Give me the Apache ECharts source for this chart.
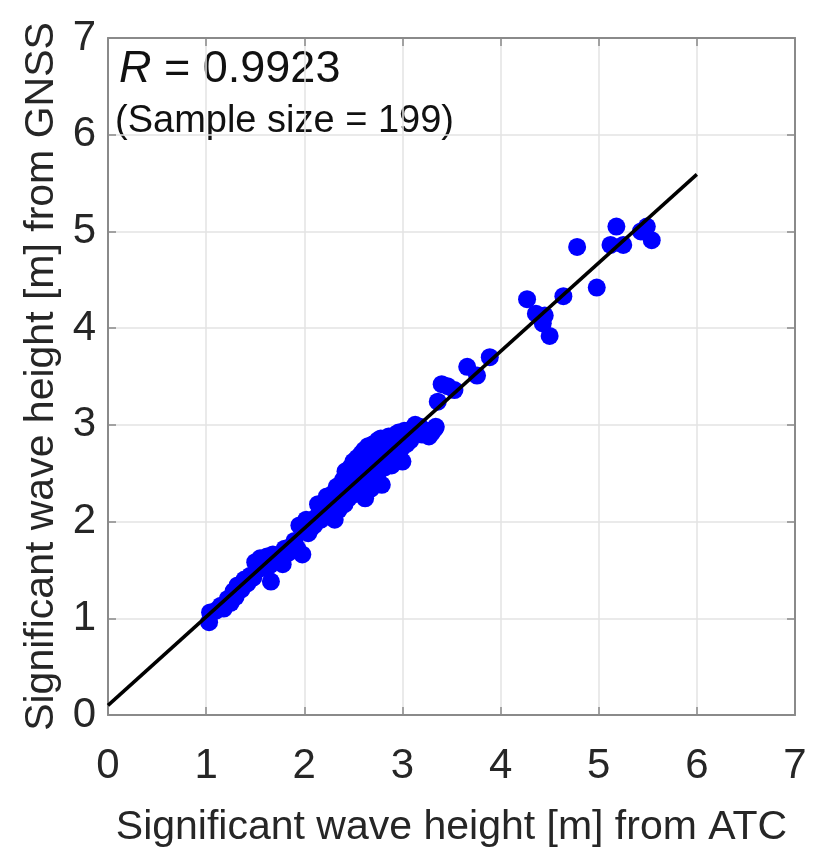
<!DOCTYPE html>
<html>
<head>
<meta charset="utf-8">
<script src="https://cdn.jsdelivr.net/npm/echarts@6/dist/echarts.min.js"></script>
<style>
  html, body { margin: 0; padding: 0; background: #fff; }
  #main { width: 814px; height: 853px; }
</style>
</head>
<body>
<div id="main"></div>
<script>
// wave height from ATC (x) vs from GNSS (y), metres
var atc = [
  1.03,1.04,1.10,1.15,1.18,1.22,1.25,1.28,1.30,1.32,1.36,1.39,1.42,1.45,1.48,
  1.50,1.52,1.55,1.58,1.60,1.62,1.65,1.66,1.68,1.72,1.75,1.78,1.80,1.84,1.86,1.90,1.93,1.95,1.98,2.00,
  2.02,2.04,2.06,2.08,2.10,2.12,2.14,2.15,2.17,2.18,2.20,2.21,2.22,2.24,2.25,2.26,2.27,2.28,2.29,2.30,2.31,2.32,2.33,2.34,2.35,
  2.36,2.37,2.38,2.39,2.40,2.41,2.42,2.42,2.43,2.44,2.45,2.46,2.47,2.48,2.49,2.50,2.50,2.51,2.52,2.53,2.54,2.55,2.55,2.56,2.57,2.58,2.58,2.59,2.60,2.60,2.61,2.62,2.62,2.63,2.64,2.64,2.65,2.66,2.66,2.67,2.68,2.68,2.69,2.70,2.70,
  2.71,2.72,2.73,2.74,2.74,2.75,2.76,2.77,2.78,2.78,2.79,2.80,2.81,2.82,2.83,2.84,2.85,2.86,2.87,2.88,2.89,2.90,2.91,2.92,2.93,2.94,2.95,2.96,2.97,2.98,3.00,3.01,3.02,3.04,3.06,
  3.08,3.10,3.13,3.15,3.18,3.20,3.24,3.27,3.30,3.33,3.34,3.36,3.40,3.46,3.53,
  3.66,3.76,3.89,4.27,4.36,4.45,4.43,4.50,4.64,4.78,4.98,5.12,5.18,5.25,5.43,5.49,5.54,
  2.23,2.28,2.33,2.37,2.40,2.44,2.46,2.48,2.52,2.54,2.56,2.59,2.61,2.63,2.65,2.67,2.69,2.71,2.73,2.76,2.79,2.82,2.85,2.88,2.92,2.96,3.00
];
var gnss = [
  0.96,1.06,1.08,1.13,1.10,1.20,1.16,1.28,1.22,1.34,1.30,1.40,1.36,1.44,1.42,
  1.58,1.50,1.62,1.60,1.52,1.64,1.55,1.38,1.66,1.60,1.62,1.56,1.72,1.68,1.74,1.80,1.72,1.96,1.66,1.98,
  2.02,1.88,1.92,2.00,1.96,2.04,2.18,2.08,2.02,2.12,2.16,2.06,2.20,2.12,2.24,2.08,2.18,2.28,2.14,2.22,2.02,2.30,2.18,2.26,2.12,
  2.34,2.22,2.40,2.28,2.44,2.18,2.36,2.52,2.30,2.46,2.24,2.40,2.56,2.34,2.48,2.28,2.62,2.42,2.54,2.36,2.66,2.48,2.30,2.58,2.42,2.70,2.52,2.36,2.62,2.46,2.74,2.56,2.24,2.40,2.68,2.50,2.78,2.60,2.44,2.72,2.54,2.34,2.64,2.80,2.48,
  2.70,2.58,2.76,2.40,2.66,2.84,2.52,2.72,2.62,2.86,2.38,2.78,2.68,2.56,2.84,2.74,2.64,2.88,2.78,2.70,2.58,2.86,2.76,2.66,2.90,2.80,2.72,2.92,2.84,2.74,2.62,2.88,2.94,2.80,2.90,
  2.84,2.96,3.00,2.92,2.98,2.90,2.94,2.88,2.92,2.96,2.98,3.24,3.42,3.40,3.36,
  3.60,3.51,3.70,4.30,4.15,4.13,4.05,3.92,4.33,4.84,4.42,4.86,5.05,4.86,5.00,5.05,4.91,
  2.26,2.20,2.36,2.30,2.34,2.38,2.50,2.42,2.46,2.58,2.50,2.60,2.52,2.64,2.56,2.66,2.58,2.62,2.68,2.74,2.70,2.76,2.80,2.82,2.84,2.86,2.88
];
// regression line end points
var fitX = [0, 6];
var fitY = [0.10, 5.59];
var axisTicks = [0, 1, 2, 3, 4, 5, 6, 7];
var rValue = '0.9923';
var sampleSize = 199;

var font = "'Liberation Sans', Arial, sans-serif";
var points = atc.map(function (v, i) { return [v, gnss[i]]; });
var fit = fitX.map(function (v, i) { return [v, fitY[i]]; });

function mainAxis(pos, title, gap) {
  return {
    type: 'value', position: pos, min: axisTicks[0], max: axisTicks[axisTicks.length - 1], interval: 1,
    name: title, nameLocation: 'middle', nameGap: gap,
    nameTextStyle: { fontFamily: font, fontSize: 41, color: '#262626' },
    axisLine: { show: true, onZero: false, lineStyle: { color: '#8a8a8a', width: 2 } },
    axisTick: { show: true, inside: true, length: 8, lineStyle: { color: '#8a8a8a', width: 1.5 } },
    axisLabel: { fontFamily: font, fontSize: 42, color: '#262626', margin: pos === 'bottom' ? 30 : 12 },
    splitLine: { show: true, lineStyle: { color: '#e3e3e3', width: 1.5 } }
  };
}
function boxAxis(pos) {
  return {
    type: 'value', position: pos, min: 0, max: 7, interval: 1,
    axisLine: { show: true, onZero: false, lineStyle: { color: '#8a8a8a', width: 2 } },
    axisTick: { show: true, inside: true, length: 8, lineStyle: { color: '#8a8a8a', width: 1.5 } },
    axisLabel: { show: false }, splitLine: { show: false }
  };
}

var chart = echarts.init(document.getElementById('main'));
chart.setOption({
  backgroundColor: '#fff',
  animation: false,
  grid: { left: 108, right: 19, top: 38, bottom: 135 },
  xAxis: [mainAxis('bottom', 'Significant wave height [m] from ATC', 92), boxAxis('top')],
  yAxis: [mainAxis('left', 'Significant wave height [m] from GNSS', 46), boxAxis('right')],
  graphic: [
    {
      type: 'text', left: 119, top: 47,
      style: {
        text: '{i|R} = ' + rValue,
        fontFamily: font, fontSize: 45, fill: '#111',
        rich: { i: { fontFamily: font, fontSize: 45, fontStyle: 'italic', fill: '#111' } }
      }
    },
    {
      type: 'text', left: 115, top: 103,
      style: { text: '(Sample size = ' + sampleSize + ')', fontFamily: font, fontSize: 38, fill: '#111' }
    }
  ],
  series: [
    {
      type: 'scatter', data: points, symbolSize: 18,
      itemStyle: { color: '#0000ff', opacity: 1 }, z: 2
    },
    {
      type: 'line', data: fit, symbol: 'none', z: 3,
      lineStyle: { color: '#000', width: 3.5 }
    }
  ]
});
</script>
</body>
</html>
